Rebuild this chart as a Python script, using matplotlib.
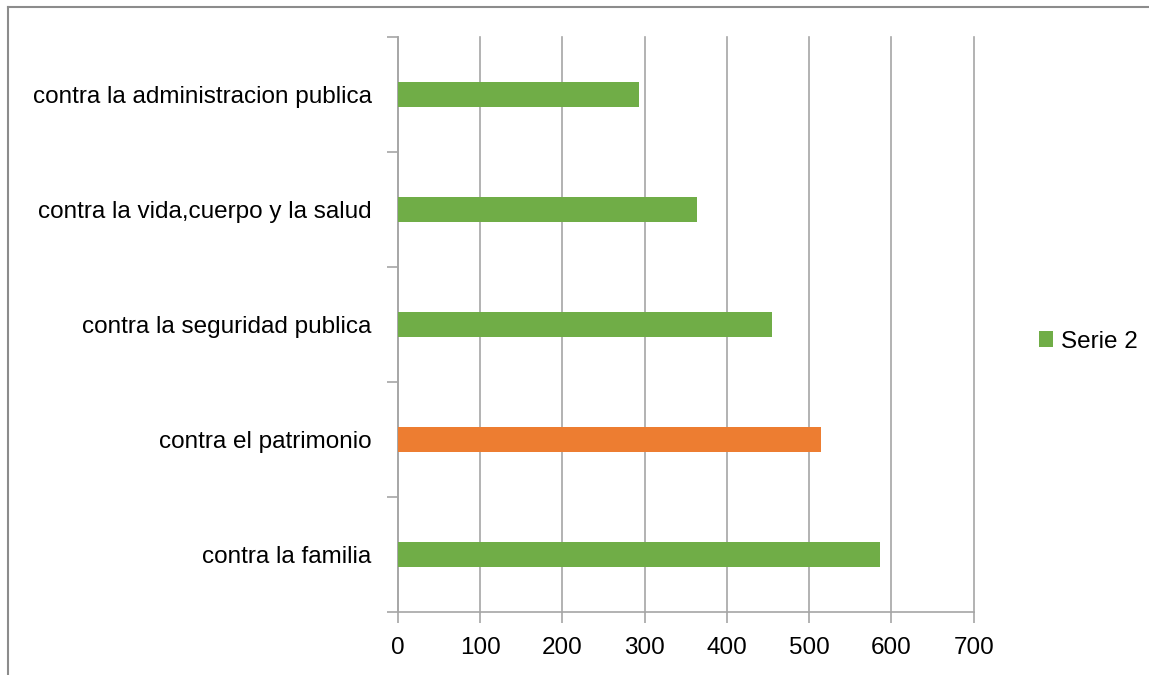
import matplotlib
matplotlib.use("Agg")
import matplotlib.pyplot as plt
from matplotlib.lines import Line2D

# categories bottom -> top, as drawn
categories = ["contra la familia", "contra el patrimonio", "contra la seguridad publica",
              "contra la vida,cuerpo y la salud", "contra la administracion publica"]
values = [586, 514, 455, 363, 293]
bar_colors = ["#70AD47", "#ED7D31", "#70AD47", "#70AD47", "#70AD47"]
x_ticks = [0, 100, 200, 300, 400, 500, 600, 700]
series_name = "Serie 2"

plt.rcParams['font.family'] = ['Liberation Sans', 'DejaVu Sans']

fig = plt.figure(figsize=(11.49, 6.75), dpi=100)
ax = fig.add_axes([0.3464, 0.0933, 0.501, 0.8519])

pos = list(range(len(categories)))
ax.barh(pos, values, height=0.22, color=bar_colors, label=series_name, zorder=3)

ax.set_xlim(0, 700)
ax.set_ylim(-0.5, len(categories) - 0.5)
ax.set_xticks(x_ticks)
ax.set_yticks(pos)
ax.set_yticklabels(categories)
ax.set_yticks([p - 0.5 for p in pos] + [len(categories) - 0.5], minor=True)

grid_c = "#A6A6A6"
ax.xaxis.grid(True, color=grid_c, linewidth=1.2, zorder=0)
for gl in ax.get_xgridlines():
    gl.set_clip_on(False)
for s in ["top", "right"]:
    ax.spines[s].set_visible(False)
for s in ["left", "bottom"]:
    ax.spines[s].set_color(grid_c)
    ax.spines[s].set_linewidth(1.2)

ax.tick_params(axis="y", which="major", length=0, pad=19, labelsize=17.5)
ax.tick_params(axis="y", which="minor", length=8, color=grid_c, width=1.2)
ax.tick_params(axis="x", length=8, color=grid_c, width=1.2, pad=10, labelsize=17.5)

ax.legend(loc="center left", bbox_to_anchor=(1.075, 0.47), frameon=False,
          fontsize=17.5, handlelength=0.6, handleheight=0.6, handletextpad=0.3)

# outer chart frame (only top and left edges visible)
fig.add_artist(Line2D([8 / 1149, 1], [1 - 7 / 675, 1 - 7 / 675], color="#8C8C8C", linewidth=1.5))
fig.add_artist(Line2D([8 / 1149, 8 / 1149], [0, 1 - 7 / 675], color="#8C8C8C", linewidth=1.5))

fig.savefig("out.png", dpi=100)
